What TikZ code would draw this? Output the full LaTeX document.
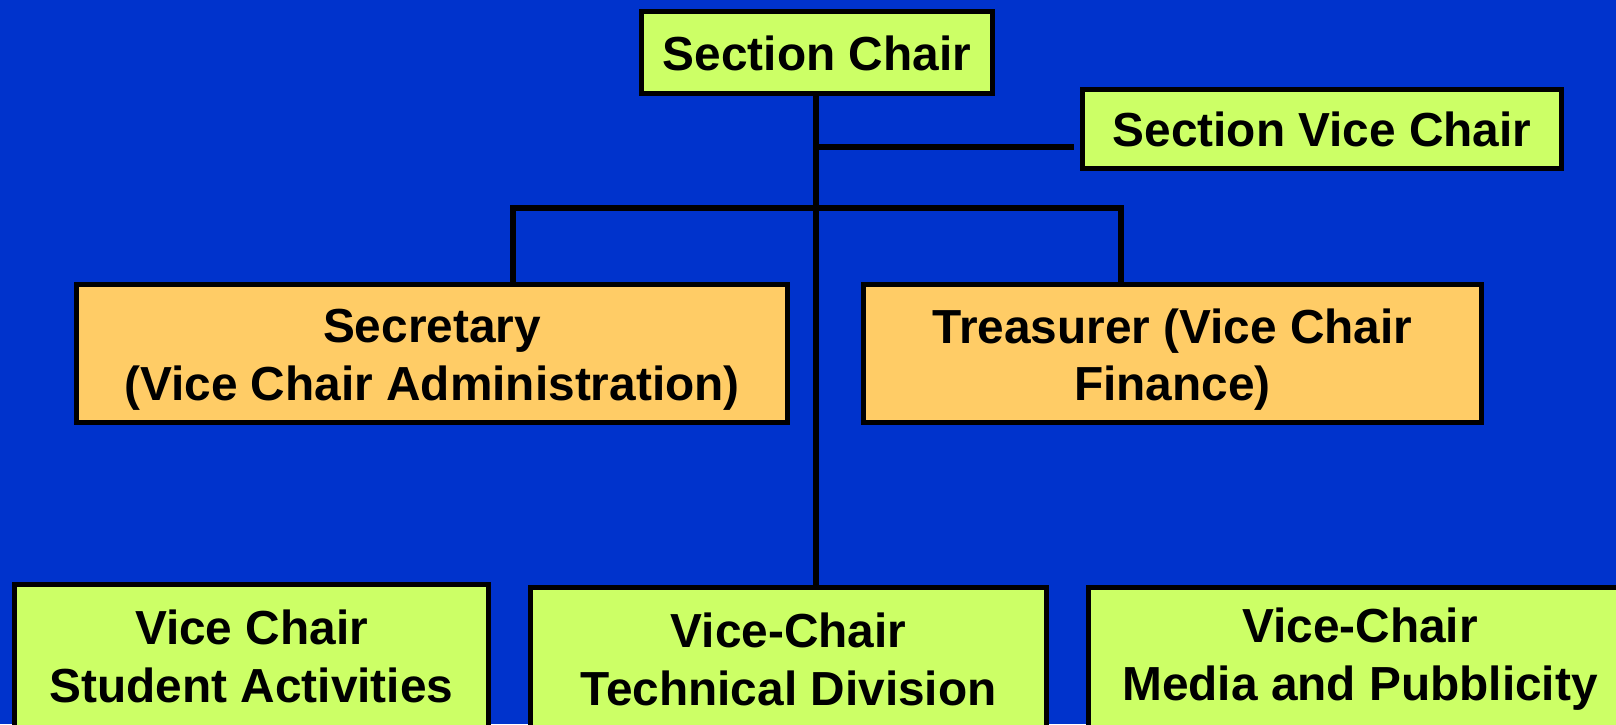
\documentclass[tikz,border=0pt]{standalone}
\usepackage{fontspec}
\setmainfont{Liberation Sans}
\usetikzlibrary{positioning}
\definecolor{slideblue}{HTML}{0033CC}
\definecolor{chairgreen}{HTML}{CCFF66}
\definecolor{officerorange}{HTML}{FFCC66}
\tikzset{
  chairbox/.style={rectangle, draw=black, fill=chairgreen, line width=1.25mm, inner sep=0pt},
  officerbox/.style={chairbox, fill=officerorange},
  boxtext/.style={align=center, inner sep=0pt, font=\fontsize{34}{41}\selectfont\bfseries},
  link/.style={draw=black, line width=1.5mm},
  }

\begin{document}
\begin{tikzpicture}[x=0.25mm, y=-0.25mm]
  % page frame and slide background
  \clip (0,0) rectangle (1616,724);
  \fill[slideblue] (0,0) rectangle (1616,724);
  % boxes placed at pixel coordinates, text as centred labels
  \node [chairbox, minimum width=87.75mm, minimum height=20.5mm,
    label={[boxtext, yshift=-0.3mm]center:{Section Chair}}] (chair) at (817,52.5) {};
  \node [chairbox, minimum width=119.75mm, minimum height=19.75mm,
    label={[boxtext]center:{Section Vice Chair}}] (vice) at (1322,129) {};
  \node [officerbox, minimum width=177.75mm, minimum height=34.5mm,
    label={[boxtext, yshift=-1.5mm]center:{Secretary\\(Vice Chair Administration)}}] (secretary) at (432,353.5) {};
  \node [officerbox, minimum width=154.5mm, minimum height=34.5mm,
    label={[boxtext, yshift=-1.5mm]center:{Treasurer (Vice Chair\\Finance)}}] (treasurer) at (1172.5,353.5) {};
  \node [chairbox, minimum width=118.5mm, minimum height=38.5mm,
    label={[boxtext, yshift=1.2mm]center:{Vice Chair\\Student Activities}}] (student) at (251.5,661) {};
  \node [chairbox, minimum width=129mm, minimum height=38.5mm,
    label={[boxtext, yshift=1.2mm]center:{Vice-Chair\\Technical Division}}] (technical) at (788.5,664) {};
  \node [chairbox, minimum width=135.75mm, minimum height=38.5mm,
    label={[boxtext, yshift=1.2mm]center:{Vice-Chair\\Media and Pubblicity}}] (media) at (1360,664) {};
  % join points on the lines
  \coordinate (vicejoin)  at (816,147);
  \coordinate (secleg)    at (513,208);
  \coordinate (treasleg)  at (1121,208);
  % connectors
  \draw [link] (chair.south -| vicejoin) -- (technical.north -| vicejoin);
  \draw [link] (vicejoin) -- ([xshift=-1.5mm]vicejoin -| vice.west);
  \draw [link] (secretary.north -| secleg) -- (secleg) -- (treasleg) -- (treasurer.north -| treasleg);
\end{tikzpicture}
\end{document}
